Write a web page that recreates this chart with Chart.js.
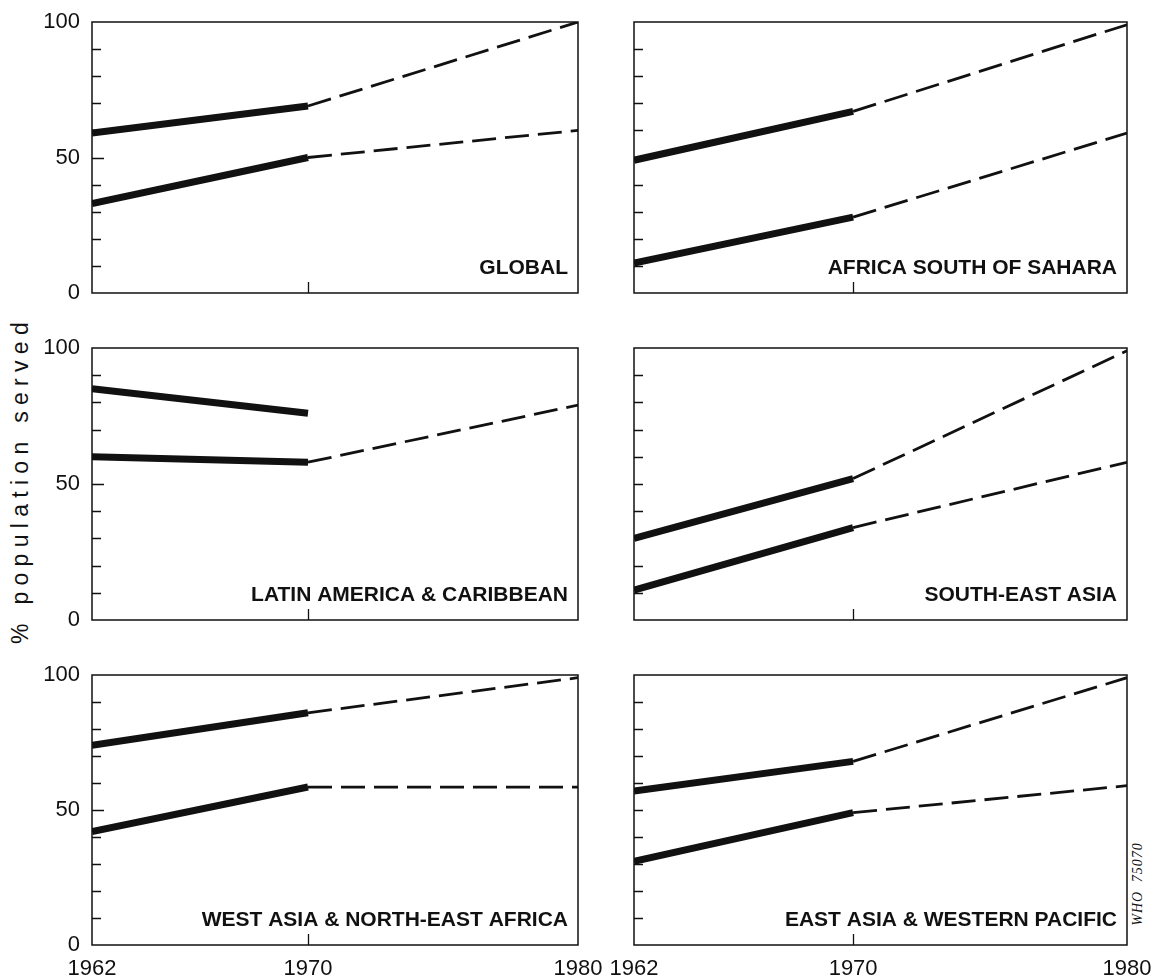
<!DOCTYPE html>
<html>
<head>
<meta charset="utf-8">
<script src="https://cdn.jsdelivr.net/npm/chart.js@4.4.1/dist/chart.umd.min.js"></script>
<style>
  body { margin: 0; background: #fff; }
  #wrap { position: relative; width: 1153px; height: 979px; overflow: hidden; background: #fff; }
  #wrap canvas { position: absolute; }
  #ytitle {
    position: absolute; left: 20px; top: 480px;
    transform: translate(-50%, -50%) rotate(-90deg);
    font: 23px 'Liberation Sans', Arial, sans-serif;
    letter-spacing: 6.3px; white-space: nowrap; color: #111;
  }
  #who {
    position: absolute; left: 1138px; top: 884px;
    transform: translate(-50%, -50%) rotate(-90deg);
    font: italic 14px 'Liberation Serif', 'DejaVu Serif', serif;
    letter-spacing: 1px; word-spacing: 4px; white-space: nowrap; color: #111;
  }
</style>
</head>
<body>
<div id="wrap">
  <div id="ytitle">% population served</div>
  <div id="who">WHO 75070</div>
</div>
<script>
// years: 1962 and 1970 are recorded, 1980 is the target
const years = [1962, 1970, 1980];
const xTickYears = [1962, 1970, 1980];
const yTickLabels = [0, 50, 100];

const panelTitles = [
  'GLOBAL',
  'AFRICA SOUTH OF SAHARA',
  'LATIN AMERICA & CARIBBEAN',
  'SOUTH-EAST ASIA',
  'WEST ASIA & NORTH-EAST AFRICA',
  'EAST ASIA & WESTERN PACIFIC'
];

// upper / lower curve of each region, values at 1962, 1970, 1980
const globalUpper = [59, 69, 100];
const globalLower = [33, 50, 60];
const africaUpper = [49, 67, 99];
const africaLower = [11, 28, 59];
const latinUpper = [85, 76, null];
const latinLower = [60, 58, 79];
const seAsiaUpper = [30, 52, 99];
const seAsiaLower = [11, 34, 58];
const westAsiaUpper = [74, 86, 99];
const westAsiaLower = [42, 58.5, 58.5];
const eastAsiaUpper = [57, 68, 99];
const eastAsiaLower = [31, 49, 59];

const panelSeries = [
  [globalUpper, globalLower],
  [africaUpper, africaLower],
  [latinUpper, latinLower],
  [seAsiaUpper, seAsiaLower],
  [westAsiaUpper, westAsiaLower],
  [eastAsiaUpper, eastAsiaLower]
];

// canvas placement so that the plot boxes line up with the original
const cols = [
  { left: 0, width: 606, padL: 92, padR: 28 },
  { left: 606, width: 547, padL: 28, padR: 26 }
];
const rows = [
  { top: 0, height: 320, padT: 22, padB: 27 },
  { top: 320, height: 328, padT: 28, padB: 28 },
  { top: 648, height: 331, padT: 27, padB: 34 }
];

const ink = '#111';
const tickFont = { family: "'Liberation Sans', Arial, sans-serif", size: 22 };

const panelDecor = {
  id: 'panelDecor',
  afterDatasetsDraw(chart, args, opts) {
    const { ctx, chartArea: a, scales: { x, y } } = chart;
    ctx.save();
    ctx.strokeStyle = ink;
    ctx.lineWidth = 1.5;
    ctx.strokeRect(a.left, a.top, a.right - a.left, a.bottom - a.top);
    // inward ticks
    ctx.lineWidth = 1.3;
    ctx.beginPath();
    y.ticks.forEach(t => {
      if (t.value <= 0 || t.value >= 100) return;
      const py = Math.round(y.getPixelForValue(t.value)) + 0.5;
      const len = (t.value === 50 && opts.leftCol) ? 12 : 9;
      ctx.moveTo(a.left, py);
      ctx.lineTo(a.left + len, py);
    });
    const px = Math.round(x.getPixelForValue(1970)) + 0.5;
    ctx.moveTo(px, a.bottom);
    ctx.lineTo(px, a.bottom - 11);
    ctx.stroke();
    // region name
    ctx.fillStyle = ink;
    ctx.font = "bold 21px 'Liberation Sans', Arial, sans-serif";
    ctx.textAlign = 'right';
    ctx.textBaseline = 'alphabetic';
    ctx.fillText(opts.title, a.right - 10, a.bottom - 19);
    ctx.restore();
  }
};

function lineSets(series) {
  const sets = [];
  series.forEach(vals => {
    sets.push({
      data: [{ x: years[0], y: vals[0] }, { x: years[1], y: vals[1] }],
      borderColor: ink, borderWidth: 7, borderCapStyle: 'butt', pointRadius: 0
    });
    if (vals[2] !== null) {
      sets.push({
        data: [{ x: years[1], y: vals[1] }, { x: years[2], y: vals[2] }],
        borderColor: ink, borderWidth: 2.8, borderDash: [24, 9], pointRadius: 0
      });
    }
  });
  return sets;
}

const wrap = document.getElementById('wrap');

panelSeries.forEach((series, i) => {
  const col = cols[i % 2];
  const row = rows[Math.floor(i / 2)];
  const leftCol = i % 2 === 0;
  const bottomRow = Math.floor(i / 2) === 2;

  const canvas = document.createElement('canvas');
  canvas.width = col.width;
  canvas.height = row.height;
  canvas.style.left = col.left + 'px';
  canvas.style.top = row.top + 'px';
  wrap.appendChild(canvas);

  new Chart(canvas.getContext('2d'), {
    type: 'line',
    data: { datasets: lineSets(series) },
    options: {
      responsive: false,
      animation: false,
      devicePixelRatio: 1,
      layout: { padding: { top: row.padT, right: col.padR, left: 0, bottom: 0 } },
      plugins: {
        legend: { display: false },
        tooltip: { enabled: false },
        panelDecor: { title: panelTitles[i], leftCol: leftCol }
      },
      elements: { line: { tension: 0 } },
      scales: {
        x: {
          type: 'linear',
          min: years[0],
          max: years[2],
          afterBuildTicks: axis => { axis.ticks = xTickYears.map(v => ({ value: v })); },
          afterFit: axis => {
            axis.height = row.padB;
            axis.paddingLeft = 0;
            axis.paddingRight = 0;
          },
          grid: { display: false, drawTicks: false },
          border: { display: false },
          ticks: {
            display: bottomRow,
            autoSkip: false,
            maxRotation: 0,
            padding: 11,
            color: ink,
            font: tickFont,
            callback: v => String(v)
          }
        },
        y: {
          min: 0,
          max: 100,
          afterFit: axis => {
            axis.width = col.padL;
            axis.paddingTop = 0;
            axis.paddingBottom = 0;
          },
          grid: { display: false, drawTicks: false },
          border: { display: false },
          ticks: {
            display: leftCol,
            stepSize: 10,
            autoSkip: false,
            padding: 12,
            color: ink,
            font: tickFont,
            callback: v => yTickLabels.includes(v) ? String(v) : ''
          }
        }
      }
    },
    plugins: [panelDecor]
  });
});
</script>
</body>
</html>
